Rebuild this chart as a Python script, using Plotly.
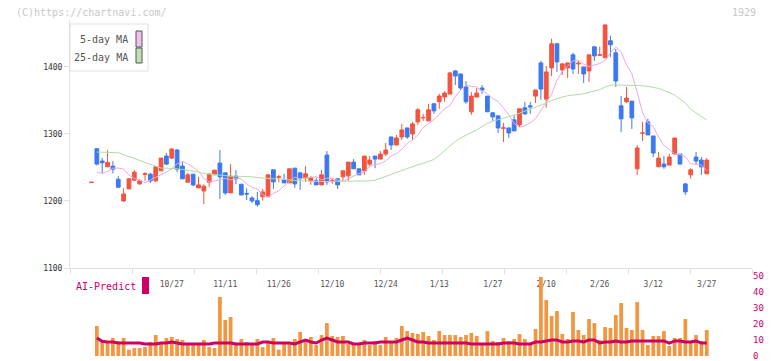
import plotly.graph_objects as go

# ---------------- data ----------------
opens = [1227.5, 1278, 1259.5, 1251, 1252, 1232.5, 1200, 1218, 1231, 1225.5,
         1239.5, 1240, 1230, 1245, 1267, 1264, 1276, 1252, 1228, 1240,
         1219.5, 1215, 1228, 1239, 1256.5, 1242, 1212, 1237, 1225, 1211,
         1204.5, 1200.5, 1206.5, 1206.5, 1246.5, 1235.5, 1231.5, 1227, 1249, 1242,
         1234.5, 1230, 1230, 1224, 1268.5, 1229.5, 1233, 1236, 1237.5, 1258,
         1248, 1245, 1255, 1267, 1262.5, 1270, 1295.5, 1283.5, 1295.5, 1309,
         1300, 1318, 1324, 1319.5, 1345, 1348, 1355, 1359.5, 1394, 1389.5,
         1370, 1333, 1355, 1368.5, 1356.5, 1331.5, 1327, 1308.5, 1309, 1321,
         1313.5, 1339, 1342, 1356.5, 1406, 1352, 1398.5, 1434.5, 1395.5, 1398.5,
         1418, 1404.5, 1400, 1394, 1430, 1417.5, 1413.5, 1439, 1421, 1342,
         1348, 1349, 1248, 1301, 1318, 1297, 1251, 1255, 1253.5, 1270,
         1270, 1225.5, 1239, 1265.5, 1261, 1240.5]
highs = [1228, 1278, 1264.5, 1276, 1259.5, 1237, 1219, 1234, 1246, 1232.5,
         1243, 1242, 1251, 1264, 1271.5, 1279, 1277.5, 1258, 1242, 1240,
         1236, 1225, 1242, 1246, 1276, 1242, 1255, 1246, 1225, 1219,
         1207, 1213.5, 1218, 1239, 1246.5, 1239, 1240.5, 1248, 1249, 1242,
         1252, 1237.5, 1234.5, 1246.5, 1274.5, 1234.5, 1234.5, 1245, 1258, 1262.5,
         1248, 1267, 1267, 1267, 1274.5, 1286.5, 1295.5, 1298.5, 1315, 1309,
         1318, 1339, 1330, 1345, 1345, 1360, 1364, 1392.5, 1395.5, 1389.5,
         1379, 1362.5, 1368.5, 1373, 1356.5, 1333, 1327, 1316.5, 1309, 1328.5,
         1337.5, 1348, 1348, 1365.5, 1409, 1401.5, 1442, 1434.5, 1406, 1406,
         1421, 1409, 1400, 1418, 1430, 1430, 1464, 1446.5, 1427, 1356.5,
         1370, 1349, 1283.5, 1318, 1322.5, 1297, 1273, 1267, 1270, 1294,
         1270, 1227, 1249, 1273, 1265.5, 1264]
lows = [1227.5, 1253, 1241.5, 1251, 1241, 1220, 1198.5, 1218, 1231, 1224,
        1230, 1227, 1228, 1245, 1253.5, 1262.5, 1243, 1233, 1228, 1222,
        1219, 1195.5, 1221, 1239, 1203, 1209, 1212, 1225, 1209, 1201.5,
        1197, 1191.5, 1200.5, 1206, 1218, 1228, 1227, 1227, 1219.5, 1216.5,
        1228.5, 1224, 1224, 1224, 1224, 1225.5, 1218, 1230, 1230, 1248,
        1239, 1239, 1252, 1249, 1262.5, 1267, 1276, 1283.5, 1291, 1292.5,
        1291, 1313.5, 1319.5, 1319.5, 1330, 1337.5, 1348, 1359.5, 1373, 1365.5,
        1345, 1328.5, 1355, 1359.5, 1333, 1319.5, 1301.5, 1288, 1294, 1304.5,
        1310.5, 1328.5, 1330, 1346, 1351, 1339, 1386.5, 1392.5, 1388, 1383.5,
        1389.5, 1389.5, 1376, 1377.5, 1409, 1417.5, 1413.5, 1415, 1370, 1303,
        1346, 1307.5, 1239, 1289.5, 1298.5, 1265.5, 1251, 1248, 1253.5, 1270,
        1255, 1209, 1233, 1255, 1239, 1240.5]
closes = [1228, 1255, 1257, 1257.5, 1247.5, 1220.5, 1210.5, 1233, 1243, 1230,
          1240.5, 1230, 1251, 1264, 1255, 1277.5, 1247.5, 1233, 1239, 1224,
          1224, 1222, 1240, 1246, 1236, 1212, 1237, 1233, 1209, 1210.5,
          1200, 1194.5, 1213.5, 1239, 1228.5, 1236, 1227, 1248, 1225.5, 1233,
          1240.5, 1234.5, 1224, 1239, 1228.5, 1230, 1224, 1245, 1258, 1248,
          1239, 1267, 1261, 1262.5, 1270, 1276, 1283.5, 1294, 1306, 1295.5,
          1315, 1336, 1324.5, 1336, 1334.5, 1356.5, 1361, 1391, 1386.5, 1368.5,
          1348, 1356.5, 1361, 1365.5, 1333, 1325.5, 1309, 1309, 1301.5, 1304.5,
          1337.5, 1330, 1340.5, 1365.5, 1367, 1392.5, 1434.5, 1407.5, 1404.5, 1406,
          1397, 1405.5, 1389.5, 1418, 1416.5, 1418, 1462.5, 1433, 1379, 1322.5,
          1353.5, 1324, 1279, 1301.5, 1298.5, 1271.5, 1264, 1251, 1265.5, 1294,
          1255, 1213.5, 1246.5, 1259.5, 1251, 1261]

# volume-style panel values (from candle 1 on)
volume = [18.75, 8.75, 8.75, 11.25, 9.2, 11.25, 4, 5, 5, 5.6,
          8.75, 13.1, 8.75, 11.25, 11.9, 10.6, 10, 7.1, 7.1, 7.1,
          10, 5.6, 5, 36.9, 22.5, 24.4, 7.5, 10.6, 8.75, 7.5,
          10.6, 5.6, 8.1, 11.25, 4, 7.5, 8.75, 10.6, 15, 10.6,
          11.9, 6.9, 13.1, 20.6, 12.5, 11.9, 12.5, 7.5, 8.1, 6.9,
          10, 6.9, 9.4, 6.9, 11.9, 8.75, 11.25, 18.75, 15.6, 14.4,
          13.75, 15, 12.5, 10, 15.6, 13.1, 13.1, 13.1, 11.9, 13.1,
          14.4, 12.5, 6.9, 15.6, 9.4, 8.75, 11.25, 9.4, 10.6, 13.75,
          10.6, 6.9, 16.9, 49.4, 35, 25, 28.1, 13.75, 10.6, 27.5,
          16.25, 13.1, 23.1, 20.6, 10, 18.1, 17.5, 25.6, 33.1, 17.5,
          16.25, 33.75, 16.25, 6.9, 12.5, 12.5, 15.6, 6.25, 11.25, 11.25,
          23.1, 8.75, 13.1, 9.4, 16.25]
ai_predict = [11.25, 9.2, 8.75, 8.75, 8.1, 8.1, 8.1, 8.1, 8.1, 7.5,
              7.5, 7.5, 8.1, 8.1, 8.75, 8.1, 7.5, 7.5, 7.5, 7.5,
              7.5, 7.5, 8.1, 8.1, 8.1, 8.1, 7.5, 7.5, 7.5, 7.5,
              7.5, 8.75, 8.75, 8.1, 8.1, 8.1, 8.1, 7.5, 8.75, 10,
              8.75, 8.1, 10, 11.25, 10, 8.75, 8.75, 8.75, 7.5, 7.5,
              8.1, 8.1, 8.1, 8.75, 8.75, 8.75, 8.75, 10, 11.25, 10,
              8.75, 8.75, 8.1, 8.1, 8.1, 8.1, 8.1, 8.1, 8.1, 8.1,
              7.5, 7.5, 7.5, 7.5, 7.5, 7.5, 8.1, 8.1, 8.1, 7.5,
              7.5, 7.5, 8.75, 8.75, 9.4, 10, 10, 8.75, 8.75, 9.4,
              9.4, 8.75, 10, 10, 8.1, 8.75, 8.75, 9.4, 8.75, 8.75,
              9.4, 9.4, 9.4, 9.4, 9.4, 9.4, 9.4, 8.1, 9.4, 9.4,
              8.75, 8.75, 9.4, 8.1, 8.1]
# 25-day moving average as read (from candle 1 on)
ma25 = [1273, 1273, 1273, 1273, 1272, 1269, 1266, 1264, 1261, 1258,
        1254, 1251, 1249, 1249, 1249, 1248, 1247, 1246, 1245, 1243,
        1241, 1240, 1239, 1238, 1238, 1237, 1237, 1237, 1236, 1236,
        1235, 1234, 1234, 1233, 1233, 1232, 1232, 1231, 1230, 1230,
        1229, 1229, 1229, 1229, 1229, 1229, 1229, 1229, 1229, 1229,
        1230, 1230, 1231, 1234, 1237, 1240, 1243, 1246, 1248, 1251,
        1254, 1256, 1259, 1262, 1268, 1275, 1282, 1289, 1294, 1298,
        1301, 1306, 1311, 1316, 1319, 1321, 1324, 1326, 1328, 1331,
        1334, 1336, 1339, 1342, 1346, 1350, 1353, 1355, 1357, 1358,
        1358, 1360, 1362, 1364, 1366, 1370, 1373, 1373, 1373, 1372,
        1372, 1372, 1372, 1371, 1370, 1368, 1365, 1361, 1358, 1352,
        1346, 1337, 1331, 1326, 1321]
# first 5-day MA points (before enough closes are on the chart)
ma5_head = [1243, 1241, 1244, 1249]

tick_index = [15, 25, 35, 45, 55, 65, 75, 85, 95, 105, 115]
tick_labels = ["10/27", "11/11", "11/26", "12/10", "12/24", "1/13",
               "1/27", "2/10", "2/26", "3/12", "3/27"]

# ---------------- derived ----------------
n = len(closes)
xs = list(range(n))
ma5 = [None] + ma5_head + [sum(closes[i - 5:i]) / 5 for i in range(5, n)]
ma25_full = [None] + ma25

# ---------------- layout geometry ----------------
W, H = 772, 361
L, R, T, B = 70, 20, 20, 3
PW, PH = W - L - R, H - T - B


def px(x):
    return (x - L) / PW


def py(y):
    return (H - B - y) / PH


XR = [-4.02, 123.46]
minor_vals = [XR[0] + k * (XR[1] - XR[0]) / 11 for k in range(12)]

MONO = "DejaVu Sans Mono"
RED = "#F2543F"
BLUE = "#3D79EE"
AXC = "#E0E0E0"
MAG = "#CC0066"

fig = go.Figure()

fig.add_trace(go.Candlestick(
    x=xs, open=opens, high=highs, low=lows, close=closes,
    increasing=dict(line=dict(color=RED, width=1), fillcolor=RED),
    decreasing=dict(line=dict(color=BLUE, width=1), fillcolor=BLUE),
    whiskerwidth=0, xaxis="x", yaxis="y", hoverinfo="skip"))

fig.add_trace(go.Scatter(x=xs, y=ma5, mode="lines",
                         line=dict(color="#E6AAE8", width=1),
                         xaxis="x", yaxis="y", hoverinfo="skip"))
fig.add_trace(go.Scatter(x=xs, y=ma25_full, mode="lines",
                         line=dict(color="#B2DCA6", width=1),
                         xaxis="x", yaxis="y", hoverinfo="skip"))

fig.add_trace(go.Bar(x=xs[1:], y=volume, marker=dict(color="#F19741", line=dict(width=0)),
                     xaxis="x2", yaxis="y2", hoverinfo="skip"))
fig.add_trace(go.Scatter(x=xs[1:], y=ai_predict, mode="lines",
                         line=dict(color=MAG, width=3),
                         xaxis="x2", yaxis="y2", hoverinfo="skip"))

shapes = [
    dict(type="rect", xref="paper", yref="paper", x0=px(70), x1=px(148), y0=py(71), y1=py(24),
         fillcolor="white", line=dict(color=AXC, width=1), layer="above"),
    dict(type="rect", xref="paper", yref="paper", x0=px(136), x1=px(142), y0=py(47), y1=py(31),
         fillcolor="#F0C0F0", line=dict(color="#555555", width=1), layer="above"),
    dict(type="rect", xref="paper", yref="paper", x0=px(136), x1=px(142), y0=py(63), y1=py(48),
         fillcolor="#C0E0B0", line=dict(color="#555555", width=1), layer="above"),
    dict(type="rect", xref="paper", yref="paper", x0=px(142), x1=px(149), y0=py(294), y1=py(277),
         fillcolor=MAG, line=dict(width=0), layer="above"),
]

annotations = [
    dict(text="(C)https://chartnavi.com/", xref="paper", yref="paper", x=px(14), y=py(12),
         xanchor="left", yanchor="middle", showarrow=False,
         font=dict(family=MONO, size=10, color="#C8C8C8")),
    dict(text="1929", xref="paper", yref="paper", x=px(758), y=py(12),
         xanchor="right", yanchor="middle", showarrow=False,
         font=dict(family=MONO, size=10, color="#C8C8C8")),
    dict(text="5-day MA", xref="paper", yref="paper", x=px(130), y=py(40),
         xanchor="right", yanchor="middle", showarrow=False,
         font=dict(family=MONO, size=10, color="#555555")),
    dict(text="25-day MA", xref="paper", yref="paper", x=px(130), y=py(57),
         xanchor="right", yanchor="middle", showarrow=False,
         font=dict(family=MONO, size=10, color="#555555")),
    dict(text="AI-Predict", xref="paper", yref="paper", x=px(74), y=py(286),
         xanchor="left", yanchor="middle", showarrow=False,
         font=dict(family=MONO, size=10, color=MAG)),
]

fig.update_layout(
    width=W, height=H, margin=dict(l=L, r=R, t=T, b=B, autoexpand=False),
    paper_bgcolor="white", plot_bgcolor="white",
    showlegend=False, boxgap=0.3, boxgroupgap=0, bargap=0.3,
    shapes=shapes, annotations=annotations,
    xaxis=dict(domain=[0, 1], range=XR, anchor="y", showgrid=False, zeroline=False,
               showline=True, linecolor=AXC, linewidth=1, automargin=False,
               tickmode="array", tickvals=tick_index, ticktext=tick_labels, ticks="",
               tickfont=dict(family=MONO, size=8, color="#555555"),
               ticklabelstandoff=8,
               minor=dict(tickmode="array", tickvals=minor_vals, ticks="outside",
                          ticklen=5, tickcolor=AXC, showgrid=False),
               rangeslider=dict(visible=False)),
    yaxis=dict(domain=[py(268), 1], range=[1100, 1470], anchor="x", automargin=False,
               tickmode="array", tickvals=[1100, 1200, 1300, 1400],
               ticks="outside", ticklen=5, tickcolor=AXC,
               showline=True, linecolor=AXC, linewidth=1,
               showgrid=False, zeroline=False,
               tickfont=dict(family=MONO, size=8, color="#333333")),
    xaxis2=dict(domain=[0, 1], range=XR, anchor="y2", matches="x", visible=False,
                automargin=False),
    yaxis2=dict(domain=[py(356), py(276)], range=[0, 50], anchor="x2", side="right",
                automargin=False, ticklabeloverflow="allow",
                tickmode="array", tickvals=[0, 10, 20, 30, 40, 50],
                showgrid=False, zeroline=False, showline=False, ticks="",
                tickfont=dict(family=MONO, size=9, color=MAG)),
)

fig.write_html("out.html", config={"displayModeBar": False, "staticPlot": True},
               post_script="document.body.style.margin='0';")
